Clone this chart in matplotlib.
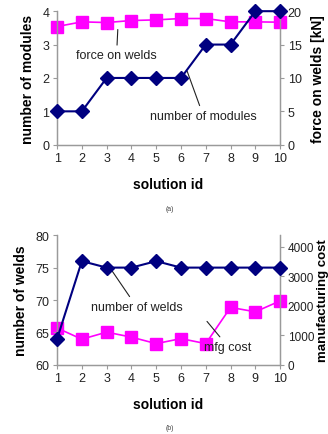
import matplotlib.pyplot as plt
import numpy as np

plt.rcParams['font.family'] = ['Liberation Sans', 'DejaVu Sans']

solution_id = np.arange(1, 11)
n_modules = [1, 1, 2, 2, 2, 2, 3, 3, 4, 4]
force_welds = [17.7, 18.4, 18.3, 18.6, 18.7, 18.9, 18.9, 18.4, 18.4, 18.35]
n_welds = [64, 76, 75, 75, 76, 75, 75, 75, 75, 75]
mfg_cost = [1250, 870, 1110, 940, 720, 890, 720, 1950, 1800, 2170]

NAVY = '#000080'
MAGENTA = '#ff00ff'
GRAY = '#9a9a9a'


def style(ax, ax2):
    for a in (ax, ax2):
        a.spines['top'].set_visible(False)
        for s in ('left', 'right', 'bottom'):
            a.spines[s].set_color(GRAY)
            a.spines[s].set_linewidth(0.9)
        a.tick_params(colors=GRAY, labelcolor='#222222', labelsize=9,
                      length=3, width=0.8, pad=2.5)
    ax.set_xlim(1, 10)
    ax.set_xticks(solution_id)
    ax.set_xlabel('solution id', fontsize=10, fontweight='bold', labelpad=9)


fig = plt.figure(figsize=(3.28, 4.35), dpi=100)

# (a) modules and weld force
ax = fig.add_axes([0.174, 0.665, 0.68, 0.307])
ax2 = ax.twinx()
ax2.plot(solution_id, force_welds, color=MAGENTA, marker='s', ms=8.5, lw=1.2, clip_on=False)
ax.plot(solution_id, n_modules, color=NAVY, marker='D', ms=7, lw=1.5, clip_on=False, zorder=5)
ax.set_zorder(ax2.get_zorder() + 1)
ax.patch.set_visible(False)
ax.set_ylim(0, 4)
ax.set_yticks([0, 1, 2, 3, 4])
ax2.set_ylim(0, 20)
ax2.set_yticks([0, 5, 10, 15, 20])
style(ax, ax2)
ax.set_ylabel('number of modules', fontsize=10, fontweight='bold', labelpad=5)
ax2.set_ylabel('force on welds [kN]', fontsize=10, fontweight='bold', labelpad=7)
ax.annotate('force on welds', xy=(3.45, 3.45), xytext=(3.4, 2.68), fontsize=9,
            ha='center', va='center', color='#222222',
            arrowprops=dict(arrowstyle='-', color='#222222', lw=0.8, shrinkA=1, shrinkB=0))
ax.annotate('number of modules', xy=(6.25, 2.2), xytext=(6.9, 0.87), fontsize=9,
            ha='center', va='center', color='#222222',
            arrowprops=dict(arrowstyle='-', color='#222222', lw=0.8, shrinkA=1, shrinkB=0))
fig.text(0.518, 0.518, '(a)', fontsize=5, ha='center', va='center', color='#444444')

# (b) welds and manufacturing cost
bx = fig.add_axes([0.174, 0.159, 0.68, 0.298])
bx2 = bx.twinx()
bx2.plot(solution_id, mfg_cost, color=MAGENTA, marker='s', ms=8.5, lw=1.2, clip_on=False)
bx.plot(solution_id, n_welds, color=NAVY, marker='D', ms=7, lw=1.5, clip_on=False, zorder=5)
bx.set_zorder(bx2.get_zorder() + 1)
bx.patch.set_visible(False)
bx.set_ylim(60, 80)
bx.set_yticks([60, 65, 70, 75, 80])
bx2.set_ylim(0, 4400)
bx2.set_yticks([0, 1000, 2000, 3000, 4000])
style(bx, bx2)
bx2.tick_params(axis='y', labelsize=8.5)
bx.set_ylabel('number of welds', fontsize=10, fontweight='bold', labelpad=5)
bx2.set_ylabel('manufacturing cost', fontsize=9.5, fontweight='bold')
bx2.yaxis.set_label_coords(1.165, 0.5)
bx.annotate('number of welds', xy=(3.2, 74.6), xytext=(4.2, 69.0), fontsize=9,
            ha='center', va='center', color='#222222',
            arrowprops=dict(arrowstyle='-', color='#222222', lw=0.8, shrinkA=1, shrinkB=0))
bx.annotate('mfg cost', xy=(7.05, 66.7), xytext=(7.9, 62.8), fontsize=9,
            ha='center', va='center', color='#222222',
            arrowprops=dict(arrowstyle='-', color='#222222', lw=0.8, shrinkA=1, shrinkB=0))
fig.text(0.518, 0.016, '(b)', fontsize=5, ha='center', va='center', color='#444444')

fig.savefig('out.png', dpi=100, facecolor='white')
